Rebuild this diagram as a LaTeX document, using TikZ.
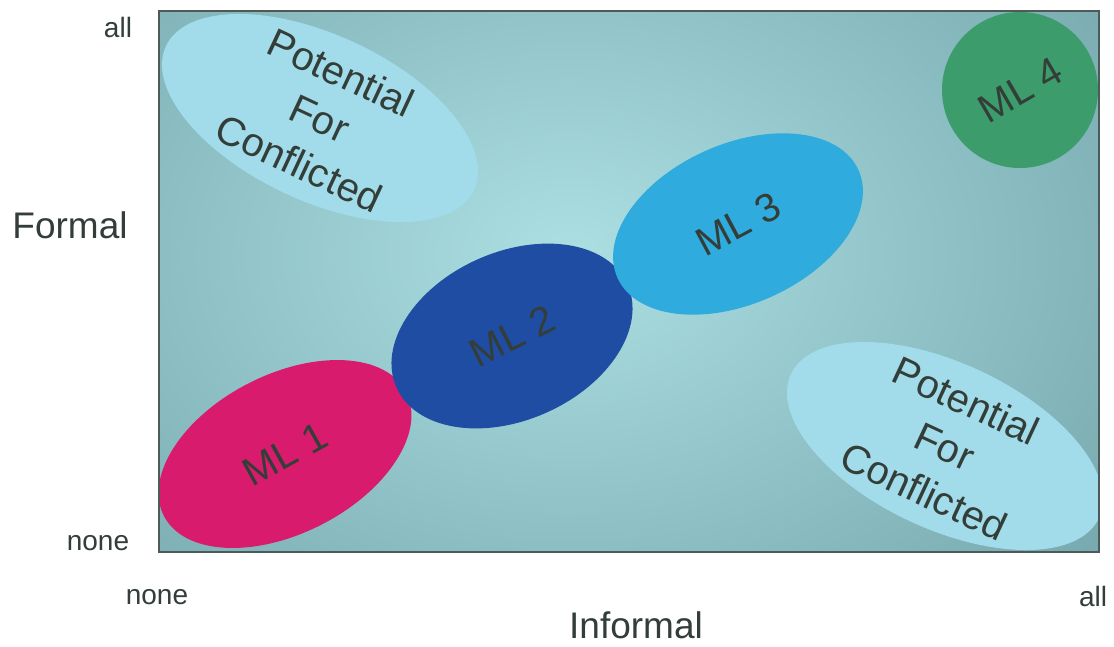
\documentclass[tikz,border=0pt]{standalone}
\usepackage{fontspec}
\setmainfont{Liberation Sans}
\usetikzlibrary{shapes.geometric}

\definecolor{inkgrey}{HTML}{343E39}
\definecolor{panelline}{HTML}{4E5A57}
\definecolor{bgedge}{HTML}{6A9CA3}
\definecolor{bgmid}{HTML}{ACDFE2}
\definecolor{pfcfill}{HTML}{A2DBEA}
\definecolor{mlone}{HTML}{D81B6C}
\definecolor{mltwo}{HTML}{1F4DA3}
\definecolor{mlthree}{HTML}{30ABDE}
\definecolor{mlfour}{HTML}{3C9C6C}

\tikzset{
  blob/.style={ellipse, draw=none, inner sep=0pt},
  pfcshape/.style={blob, fill=pfcfill, minimum width=340pt, minimum height=166pt},
  bigtext/.style={text=inkgrey, inner sep=0pt, align=center,
    font=\fontsize{40}{50}\selectfont},
  axislab/.style={text=inkgrey, inner sep=0pt, font=\fontsize{37}{44}\selectfont},
  endlab/.style={text=inkgrey, inner sep=0pt, font=\fontsize{28}{34}\selectfont},
}

\begin{document}
\begin{tikzpicture}[x=1pt,y=-1pt]
\useasboundingbox (0,0) rectangle (1114,646);
\fill[white] (0,0) rectangle (1114,646);

% chart panel with a soft glow in the middle
\begin{scope}
  \clip (159,11) rectangle (1099,552);
  \fill[bgedge] (159,11) rectangle (1099,552);
  \shade[inner color=bgmid, outer color=bgedge] (570,255) ellipse (840 and 600);

  % conflict zones
  \node[pfcshape, rotate=-25] (pfcA) at (320,118) {};
  \node[pfcshape, rotate=-25] (pfcB) at (945,446) {};

  % maturity levels
  \node[blob, fill=mlone, rotate=27, minimum width=272pt, minimum height=159pt] (ml1) at (285,454) {};
  \node[blob, fill=mltwo, rotate=24, minimum width=253pt, minimum height=168pt] (ml2) at (512,336) {};
  \node[blob, fill=mlthree, rotate=24, minimum width=264pt, minimum height=160pt] (ml3) at (738,224) {};
  \node[circle, draw=none, fill=mlfour, inner sep=0pt, minimum size=156pt] (ml4) at (1020,90) {};
\end{scope}
\draw[panelline, line width=1.2pt] (159,11) rectangle (1099,552);

% labels inside the shapes
\node[bigtext, rotate=-25] (pfcAtxt) at (pfcA.center) {Potential\\For\\Conflicted};
\node[bigtext, rotate=-25] (pfcBtxt) at (pfcB.center) {Potential\\For\\Conflicted};
\node[bigtext, rotate=29] (ml1txt) at (ml1.center) {ML 1};
\node[bigtext, rotate=27] (ml2txt) at (ml2.center) {ML 2};
\node[bigtext, rotate=28] (ml3txt) at (ml3.center) {ML 3};
\node[bigtext, rotate=30] (ml4txt) at (ml4.center) {ML 4};

% axis titles and end marks
\node[axislab] (formal) at (70,225) {Formal};
\node[axislab] (informal) at (636,625) {Informal};
\node[endlab] (ytop) at (118,27) {all};
\node[endlab] (ybot) at (98,543) {none};
\node[endlab] (xleft) at (157,597) {none};
\node[endlab] (xright) at (1093,596) {all};
\end{tikzpicture}
\end{document}
